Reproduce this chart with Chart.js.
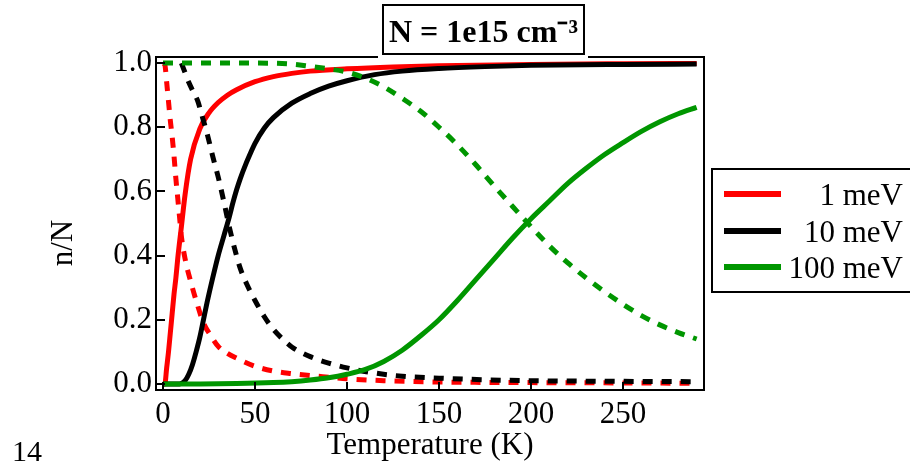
<!DOCTYPE html>
<html lang="en">
<head>
    <meta charset="UTF-8">
    <title>Ionized fraction vs temperature</title>
    <script src="https://cdn.jsdelivr.net/npm/chart.js"></script>
    <style>
        html, body { margin: 0; padding: 0; background: #fff; }
        #wrap { width: 910px; height: 468px; position: relative; }
    </style>
</head>
<body>

<div id="wrap">
    <canvas id="ionChart" width="910" height="468"></canvas>
</div>

<script>
    // n/N vs temperature for three donor ionization energies
    const titleText = 'N = 1e15 cm\u207B\u00B3';
    const seriesNames = ['1 meV', '10 meV', '100 meV'];

    const xTicks = [0, 50, 100, 150, 200, 250];
    const yTicks = [0.0, 0.2, 0.4, 0.6, 0.8, 1.0];

    // 1 meV
    const tRedSolid = [0, 1, 2, 3, 4, 5, 6, 7, 8, 10, 12, 15, 20, 25, 30, 35, 40, 50, 60, 70, 80, 100, 125, 150, 200, 250, 290];
    const nRedSolid = [0, 0, 0.05, 0.1, 0.16, 0.22, 0.28, 0.33, 0.39, 0.49, 0.59, 0.7, 0.795, 0.845, 0.877, 0.9, 0.917, 0.942, 0.958, 0.968, 0.975, 0.982, 0.988, 0.992, 0.996, 0.998, 0.999];
    const tRedDash = [0, 1, 2, 3, 4, 5, 6, 7, 8, 9, 10, 12, 15, 18, 22, 26, 30, 35, 40, 50, 60, 70, 80, 90, 100, 120, 150, 200, 250, 290];
    const nRedDash = [1.0, 0.995, 0.94, 0.88, 0.82, 0.77, 0.71, 0.64, 0.58, 0.52, 0.46, 0.39, 0.32, 0.26, 0.19, 0.15, 0.117, 0.095, 0.08, 0.055, 0.04, 0.032, 0.026, 0.021, 0.016, 0.01, 0.006, 0.004, 0.003, 0.002];

    // 10 meV
    const tBlackSolid = [0, 9, 12, 14, 16, 18, 20, 22, 24, 27, 30, 33, 36, 38, 40, 42, 45, 48, 50, 55, 60, 70, 80, 90, 100, 115, 130, 150, 175, 200, 250, 290];
    const nBlackSolid = [0, 0, 0.01, 0.03, 0.06, 0.1, 0.145, 0.2, 0.255, 0.33, 0.4, 0.46, 0.52, 0.565, 0.605, 0.64, 0.685, 0.725, 0.75, 0.797, 0.83, 0.875, 0.905, 0.928, 0.945, 0.964, 0.975, 0.983, 0.989, 0.993, 0.996, 0.997];
    const tBlackDash = [10, 12, 14, 16.5, 19, 21, 24, 27, 30, 33, 36, 39, 42, 46, 50, 55, 60, 65, 70, 80, 90, 100, 115, 130, 150, 175, 200, 250, 290];
    const nBlackDash = [1.0, 0.97, 0.94, 0.91, 0.88, 0.84, 0.78, 0.71, 0.645, 0.57, 0.49, 0.42, 0.36, 0.305, 0.26, 0.21, 0.17, 0.14, 0.115, 0.085, 0.065, 0.05, 0.034, 0.024, 0.018, 0.013, 0.01, 0.008, 0.007];

    // 100 meV
    const tGreenSolid = [0, 20, 40, 60, 70, 80, 90, 100, 110, 120, 130, 140, 150, 160, 170, 180, 190, 200, 210, 220, 230, 240, 250, 260, 270, 280, 290];
    const nGreenSolid = [0, 0, 0.001, 0.004, 0.007, 0.012, 0.019, 0.03, 0.045, 0.07, 0.105, 0.15, 0.2, 0.26, 0.325, 0.39, 0.455, 0.515, 0.57, 0.625, 0.672, 0.715, 0.752, 0.787, 0.817, 0.842, 0.862];
    const tGreenDash = [0, 50, 70, 80, 90, 100, 110, 120, 130, 140, 150, 160, 170, 180, 190, 200, 210, 220, 230, 240, 250, 260, 270, 280, 290];
    const nGreenDash = [1.0, 1.0, 0.997, 0.99, 0.982, 0.972, 0.953, 0.926, 0.89, 0.85, 0.8, 0.745, 0.683, 0.617, 0.553, 0.49, 0.43, 0.377, 0.33, 0.287, 0.248, 0.213, 0.184, 0.16, 0.14];

    const RED = '#ff0000';
    const BLACK = '#000000';
    const GREEN = '#009600';
    const SERIF = '"Liberation Serif", "Times New Roman", serif';
    const DASH = [10, 9];

    function pts(xs, ys) {
        return xs.map((t, i) => ({ x: t, y: ys[i] }));
    }

    function curve(label, xs, ys, color, dashed, order) {
        return {
            label: label,
            data: pts(xs, ys),
            borderColor: color,
            backgroundColor: color,
            borderWidth: 5,
            borderDash: dashed ? DASH : [],
            borderCapStyle: 'butt',
            pointRadius: 0,
            cubicInterpolationMode: 'monotone',
            fill: false,
            order: order,
            solid: !dashed
        };
    }

    // box, inward ticks, title box, legend and extra labels
    const decorations = {
        id: 'decorations',
        afterDraw(chart) {
            const { ctx, chartArea: a, scales } = chart;
            const xs = scales.x, ys = scales.y;
            ctx.save();
            ctx.strokeStyle = '#000';
            ctx.lineWidth = 2;
            ctx.strokeRect(a.left, a.top, a.right - a.left, a.bottom - a.top);

            ctx.beginPath();
            xTicks.forEach(v => {
                const px = Math.round(xs.getPixelForValue(v));
                ctx.moveTo(px, a.bottom);
                ctx.lineTo(px, a.bottom - 8);
            });
            yTicks.forEach(v => {
                const py = Math.round(ys.getPixelForValue(v));
                ctx.moveTo(a.left, py);
                ctx.lineTo(a.left + 9, py);
            });
            ctx.stroke();

            // title box sitting on the top border
            ctx.fillStyle = '#fff';
            ctx.fillRect(378, 0, 210, 59.5);
            ctx.strokeRect(383, 5, 201, 49);
            ctx.fillStyle = '#000';
            ctx.font = 'bold 32px ' + SERIF;
            ctx.textAlign = 'center';
            ctx.textBaseline = 'alphabetic';
            ctx.fillText(titleText, 483.5, 42);

            // legend, solid curves only
            ctx.strokeRect(712, 169, 210, 123);
            ctx.font = '31px ' + SERIF;
            ctx.textAlign = 'right';
            const rows = [194, 231, 267];
            chart.data.datasets.filter(d => d.solid).forEach((d, i) => {
                ctx.strokeStyle = d.borderColor;
                ctx.lineWidth = 6;
                ctx.beginPath();
                ctx.moveTo(724, rows[i]);
                ctx.lineTo(781, rows[i]);
                ctx.stroke();
                ctx.fillText(d.label, 903, rows[i] + 11);
            });

            // y axis title
            ctx.save();
            ctx.translate(72, 243);
            ctx.rotate(-Math.PI / 2);
            ctx.textAlign = 'center';
            ctx.fillText('n/N', 0, 0);
            ctx.restore();

            // page number
            ctx.textAlign = 'left';
            ctx.font = '30px ' + SERIF;
            ctx.fillText('14', 12, 461);
            ctx.restore();
        }
    };

    const ctxIon = document.getElementById('ionChart').getContext('2d');
    new Chart(ctxIon, {
        type: 'line',
        data: {
            datasets: [
                curve(seriesNames[0], tRedSolid, nRedSolid, RED, false, 6),
                curve(seriesNames[0], tRedDash, nRedDash, RED, true, 5),
                curve(seriesNames[1], tBlackSolid, nBlackSolid, BLACK, false, 4),
                curve(seriesNames[1], tBlackDash, nBlackDash, BLACK, true, 3),
                curve(seriesNames[2], tGreenSolid, nGreenSolid, GREEN, false, 2),
                curve(seriesNames[2], tGreenDash, nGreenDash, GREEN, true, 1)
            ]
        },
        options: {
            responsive: false,
            animation: false,
            layout: { padding: { left: 0, top: 57, right: 206, bottom: 0 } },
            plugins: {
                legend: { display: false },
                title: { display: false },
                tooltip: { enabled: false }
            },
            scales: {
                x: {
                    type: 'linear',
                    min: -3.8,
                    max: 294,
                    afterBuildTicks: s => { s.ticks = xTicks.map(v => ({ value: v })); },
                    afterFit: s => { s.height = 78; },
                    grid: { display: false, drawTicks: false },
                    border: { display: false },
                    ticks: {
                        font: { family: SERIF, size: 31 },
                        color: '#000',
                        padding: 6,
                        maxRotation: 0,
                        callback: v => v
                    },
                    title: {
                        display: true,
                        text: 'Temperature (K)',
                        font: { family: SERIF, size: 31 },
                        color: '#000',
                        padding: { top: 0, bottom: 4 }
                    }
                },
                y: {
                    min: -0.019,
                    max: 1.019,
                    afterBuildTicks: s => { s.ticks = yTicks.map(v => ({ value: v })); },
                    afterFit: s => { s.width = 156; },
                    grid: { display: false, drawTicks: false },
                    border: { display: false },
                    ticks: {
                        font: { family: SERIF, size: 31 },
                        color: '#000',
                        padding: 4,
                        callback: v => v.toFixed(1)
                    }
                }
            }
        },
        plugins: [decorations]
    });
</script>

</body>
</html>
